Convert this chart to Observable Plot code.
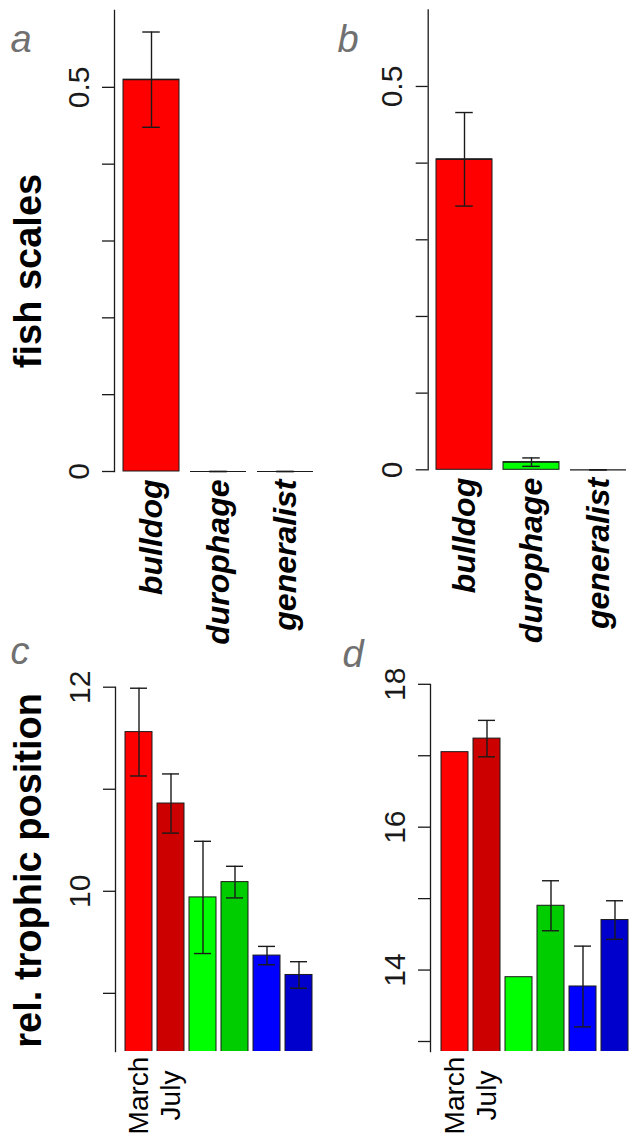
<!DOCTYPE html>
<html><head><meta charset="utf-8">
<script src="https://cdn.jsdelivr.net/npm/d3@7"></script>
<script src="https://cdn.jsdelivr.net/npm/@observablehq/plot@0.6"></script>
<style>
html,body{margin:0;padding:0;background:#fff;}
#fig{position:relative;width:639px;height:1145px;overflow:hidden;font-family:'Liberation Sans',Arial,sans-serif;}
#fig > svg{position:absolute;}
</style></head><body><div id="fig"></div>
<script>
// ---- Panels a, b: fish scales ----
const guilds = ["bulldog", "durophage", "generalist"];
const guildColors = ["#FF0000", "#00FF00", "#0000FF"];
const fishA = [0.51, 0, 0];
const fishAse = [0.062, 0, 0];
const fishB = [0.405, 0.01, 0];
const fishBse = [0.061, 0.0055, 0];
const fishTicks = [0, 0.1, 0.2, 0.3, 0.4, 0.5];
const fishTickLabels = ["0", "", "", "", "", "0.5"];

// ---- Panels c, d: relative trophic position ----
const groups = ["bulldog March", "bulldog July", "durophage March", "durophage July", "generalist March", "generalist July"];
const groupLabels = ["March", "July", "", "", "", ""];
const groupColors = ["#FF0000", "#CD0000", "#00FF00", "#00CD00", "#0000FF", "#0000CD"];
const tpC = [11.56, 10.86, 9.94, 10.09, 9.37, 9.18];
const tpCse = [0.43, 0.29, 0.55, 0.155, 0.09, 0.13];
const tpD = [17.05, 17.24, 13.90, 14.90, 13.77, 14.70];
const tpDse = [null, 0.255, null, 0.35, 0.565, 0.27];
const tpCTicks = [9, 10, 11, 12];
const tpCTickLabels = ["", "10", "", "12"];
const tpDTicks = [13, 14, 15, 16, 17, 18];
const tpDTickLabels = ["", "14", "", "16", "", "18"];

function rows(keys, values, se, colors) {
  return keys.map((k, i) => ({
    key: k, value: values[i], color: colors[i], se: se[i],
    lo: se[i] == null ? null : values[i] - se[i],
    hi: se[i] == null ? null : values[i] + se[i]
  }));
}

const INK = "#1a1a1a";
const FONT = "'Liberation Sans', Arial, Helvetica, sans-serif";

function panel(o) {
  const data = o.data;
  const err = data.filter(d => d.se != null);
  const tickFmt = new Map(o.ticks.map((t, i) => [t, o.tickLabels[i]]));
  const catFmt = new Map(data.map((d, i) => [d.key, o.catLabels[i]]));
  const marks = [
    Plot.barY(data, {x: "key", y: "value", fill: "color", stroke: INK, strokeWidth: 1, clip: o.clip}),
  ];
  if (o.zeroLines) marks.push(Plot.tickY(data, {x: "key", y: "value", stroke: INK, strokeWidth: 1.2}));
  marks.push(
    Plot.ruleX(err, {x: "key", y1: "lo", y2: "hi", stroke: INK, strokeWidth: 1.4}),
    Plot.tickY(err, {x: "key", y: "lo", stroke: INK, strokeWidth: 1.4, insetLeft: o.capInset, insetRight: o.capInset}),
    Plot.tickY(err, {x: "key", y: "hi", stroke: INK, strokeWidth: 1.4, insetLeft: o.capInset, insetRight: o.capInset}),
    Plot.frame({anchor: "left", stroke: INK, strokeWidth: 1.3}),
    Plot.axisY({ticks: o.ticks, tickFormat: d => tickFmt.get(d), tickSize: 12, tickPadding: 14, tickRotate: -90,
      fontSize: 30, color: INK, strokeWidth: 1.3, label: null}),
    Plot.axisX({tickFormat: d => catFmt.get(d), tickSize: 0, tickPadding: o.catPadding, tickRotate: -90,
      textAnchor: o.catAnchor, fontSize: o.catSize, fontWeight: o.catWeight, fontStyle: o.catStyle, fill: "black", label: null}),
    Plot.text([o.letter], {frameAnchor: "top-left", textAnchor: "start", lineAnchor: "bottom", dx: o.letterDx, dy: o.letterDy,
      fontSize: 38, fontStyle: "italic", fill: "#707070"})
  );
  if (o.yLabel) marks.push(Plot.text([o.yLabel], {frameAnchor: "left", textAnchor: "middle", lineAnchor: "middle",
      rotate: -90, dx: o.yLabelDx, dy: o.yLabelDy, fontSize: 38, fontWeight: "bold", fill: "black"}));
  const svg = Plot.plot({
    width: o.w, height: o.h, marginLeft: o.ml, marginTop: o.mt, marginBottom: o.mb, marginRight: 0,
    style: {fontFamily: FONT, overflow: "visible", background: "transparent", color: "black"},
    x: {domain: data.map(d => d.key), range: o.xr, paddingInner: 0.2 / 1.2, paddingOuter: 0, align: 0.5},
    y: {domain: o.yDomain},
    marks
  });
  svg.style.left = o.left + "px";
  svg.style.top = o.top + "px";
  return svg;
}

const fig = document.getElementById("fig");

fig.appendChild(panel({
  left: 0, top: 0, w: 320, h: 620, ml: 114, mt: 10, mb: 149, xr: [121.7, 313.3], yDomain: [0, 0.6],
  data: rows(guilds, fishA, fishAse, guildColors), ticks: fishTicks, tickLabels: fishTickLabels,
  catLabels: guilds, catPadding: 8, catAnchor: "end", catSize: 32, catWeight: "bold", catStyle: "italic",
  capInset: 19.25, zeroLines: true, clip: false,
  letter: "a", letterDx: -104, letterDy: 41,
  yLabel: "fish scales", yLabelDx: -86, yLabelDy: 30
}));

fig.appendChild(panel({
  left: 320, top: 0, w: 319, h: 620, ml: 107.7, mt: 9.3, mb: 150.7, xr: [115.7, 307], yDomain: [0, 0.6],
  data: rows(guilds, fishB, fishBse, guildColors), ticks: fishTicks, tickLabels: fishTickLabels,
  catLabels: guilds, catPadding: 8, catAnchor: "end", catSize: 32, catWeight: "bold", catStyle: "italic",
  capInset: 19.25, zeroLines: true, clip: false,
  letter: "b", letterDx: -90.7, letterDy: 41.7
}));

fig.appendChild(panel({
  left: 0, top: 620, w: 320, h: 525, ml: 115, mt: 66.7, mb: 94, xr: [123, 314], yDomain: [8.43, 12],
  data: rows(groups, tpC, tpCse, groupColors), ticks: tpCTicks, tickLabels: tpCTickLabels,
  catLabels: groupLabels, catPadding: 44, catAnchor: "middle", catSize: 28, catWeight: "normal", catStyle: "normal",
  capInset: 5, zeroLines: false, clip: true,
  letter: "c", letterDx: -105, letterDy: -23.7,
  yLabel: "rel. trophic position", yLabelDx: -87, yLabelDy: 1
}));

fig.appendChild(panel({
  left: 320, top: 620, w: 319, h: 525, ml: 110, mt: 63.8, mb: 94, xr: [118, 310], yDomain: [12.86, 18],
  data: rows(groups, tpD, tpDse, groupColors), ticks: tpDTicks, tickLabels: tpDTickLabels,
  catLabels: groupLabels, catPadding: 44, catAnchor: "middle", catSize: 28, catWeight: "normal", catStyle: "normal",
  capInset: 5, zeroLines: false, clip: true,
  letter: "d", letterDx: -88, letterDy: -17.8
}));
</script>
</body></html>
